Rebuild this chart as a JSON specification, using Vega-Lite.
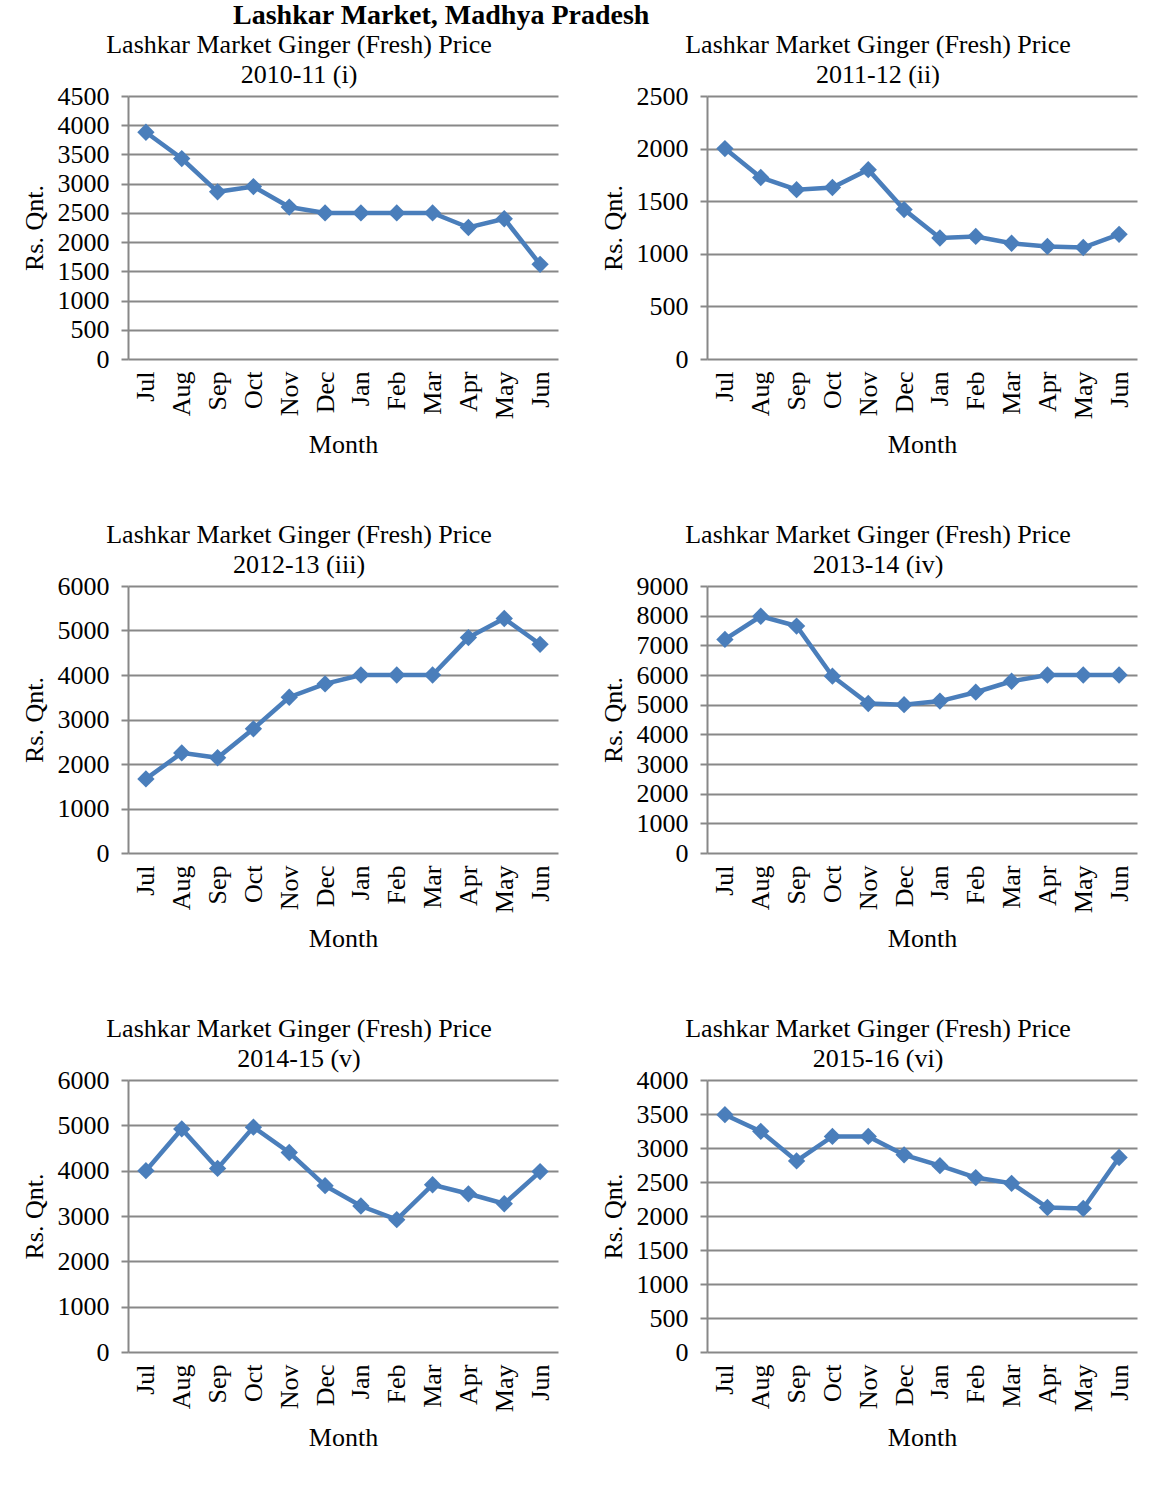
{
  "$schema": "https://vega.github.io/schema/vega-lite/v6.json",
  "padding": {"left": 21, "top": 2, "right": 15, "bottom": 10},
  "title": {"text": "Lashkar Market, Madhya Pradesh", "anchor": "start", "frame": "bounds", "dx": 212, "font": "Liberation Serif", "fontSize": 28, "fontWeight": "bold", "color": "#000", "offset": 2},
  "datasets": {
    "p1": [
      {"month": "Jul", "price": 3880}, {"month": "Aug", "price": 3430}, {"month": "Sep", "price": 2860}, {"month": "Oct", "price": 2950},
      {"month": "Nov", "price": 2600}, {"month": "Dec", "price": 2500}, {"month": "Jan", "price": 2500}, {"month": "Feb", "price": 2500},
      {"month": "Mar", "price": 2500}, {"month": "Apr", "price": 2250}, {"month": "May", "price": 2400}, {"month": "Jun", "price": 1620}
    ],
    "p2": [
      {"month": "Jul", "price": 2000}, {"month": "Aug", "price": 1725}, {"month": "Sep", "price": 1610}, {"month": "Oct", "price": 1630},
      {"month": "Nov", "price": 1800}, {"month": "Dec", "price": 1420}, {"month": "Jan", "price": 1150}, {"month": "Feb", "price": 1165},
      {"month": "Mar", "price": 1100}, {"month": "Apr", "price": 1070}, {"month": "May", "price": 1060}, {"month": "Jun", "price": 1185}
    ],
    "p3": [
      {"month": "Jul", "price": 1665}, {"month": "Aug", "price": 2250}, {"month": "Sep", "price": 2140}, {"month": "Oct", "price": 2790},
      {"month": "Nov", "price": 3500}, {"month": "Dec", "price": 3800}, {"month": "Jan", "price": 4000}, {"month": "Feb", "price": 4000},
      {"month": "Mar", "price": 4000}, {"month": "Apr", "price": 4840}, {"month": "May", "price": 5270}, {"month": "Jun", "price": 4690}
    ],
    "p4": [
      {"month": "Jul", "price": 7200}, {"month": "Aug", "price": 7980}, {"month": "Sep", "price": 7650}, {"month": "Oct", "price": 5960},
      {"month": "Nov", "price": 5040}, {"month": "Dec", "price": 5000}, {"month": "Jan", "price": 5120}, {"month": "Feb", "price": 5420},
      {"month": "Mar", "price": 5790}, {"month": "Apr", "price": 6000}, {"month": "May", "price": 6000}, {"month": "Jun", "price": 6000}
    ],
    "p5": [
      {"month": "Jul", "price": 4000}, {"month": "Aug", "price": 4920}, {"month": "Sep", "price": 4050}, {"month": "Oct", "price": 4960},
      {"month": "Nov", "price": 4400}, {"month": "Dec", "price": 3670}, {"month": "Jan", "price": 3220}, {"month": "Feb", "price": 2920},
      {"month": "Mar", "price": 3690}, {"month": "Apr", "price": 3490}, {"month": "May", "price": 3270}, {"month": "Jun", "price": 3980}
    ],
    "p6": [
      {"month": "Jul", "price": 3490}, {"month": "Aug", "price": 3245}, {"month": "Sep", "price": 2810}, {"month": "Oct", "price": 3170},
      {"month": "Nov", "price": 3170}, {"month": "Dec", "price": 2900}, {"month": "Jan", "price": 2740}, {"month": "Feb", "price": 2565},
      {"month": "Mar", "price": 2480}, {"month": "Apr", "price": 2125}, {"month": "May", "price": 2110}, {"month": "Jun", "price": 2860}
    ]
  },
  "config": {
    "font": "Liberation Serif",
    "view": {"stroke": null},
    "axis": {
      "labelFont": "Liberation Serif", "titleFont": "Liberation Serif",
      "labelFontSize": 26, "titleFontSize": 26, "labelColor": "#000", "titleColor": "#000",
      "titleFontWeight": "normal", "domainColor": "#888", "domainWidth": 2,
      "tickColor": "#888", "tickWidth": 2, "gridColor": "#888", "gridWidth": 2, "gridOpacity": 1
    },
    "axisY": {"grid": true, "tickSize": 7, "labelPadding": 12, "titlePadding": 10, "format": "d"},
    "axisX": {"grid": false, "ticks": false, "domain": false, "labelAngle": -90, "labelPadding": 12, "titlePadding": 13},
    "title": {"font": "Liberation Serif", "fontSize": 26, "fontWeight": "normal", "color": "#000", "anchor": "middle", "frame": "group", "dx": -44, "lineHeight": 30, "offset": -5}
  },
  "columns": 2,
  "spacing": {"row": 64, "column": 42},
  "concat": [
    {
      "title": {"text": ["Lashkar Market Ginger (Fresh) Price", "2010-11 (i)"]},
      "width": 430, "height": 263,
      "data": {"name": "p1"},
      "mark": {"type": "line", "color": "#4A7EBB", "strokeWidth": 4.5, "point": {"shape": "diamond", "filled": true, "size": 300, "color": "#4A7EBB", "opacity": 1}},
      "encoding": {
        "x": {"field": "month", "type": "ordinal", "sort": null, "title": "Month", "scale": {"padding": 0.5}},
        "y": {"field": "price", "type": "quantitative", "title": "Rs. Qnt.", "scale": {"domain": [0, 4500]}, "axis": {"values": [0, 500, 1000, 1500, 2000, 2500, 3000, 3500, 4000, 4500]}}
      }
    },
    {
      "title": {"text": ["Lashkar Market Ginger (Fresh) Price", "2011-12 (ii)"]},
      "width": 430, "height": 263,
      "data": {"name": "p2"},
      "mark": {"type": "line", "color": "#4A7EBB", "strokeWidth": 4.5, "point": {"shape": "diamond", "filled": true, "size": 300, "color": "#4A7EBB", "opacity": 1}},
      "encoding": {
        "x": {"field": "month", "type": "ordinal", "sort": null, "title": "Month", "scale": {"padding": 0.5}},
        "y": {"field": "price", "type": "quantitative", "title": "Rs. Qnt.", "scale": {"domain": [0, 2500]}, "axis": {"values": [0, 500, 1000, 1500, 2000, 2500]}}
      }
    },
    {
      "title": {"text": ["Lashkar Market Ginger (Fresh) Price", "2012-13 (iii)"]},
      "width": 430, "height": 267,
      "data": {"name": "p3"},
      "mark": {"type": "line", "color": "#4A7EBB", "strokeWidth": 4.5, "point": {"shape": "diamond", "filled": true, "size": 300, "color": "#4A7EBB", "opacity": 1}},
      "encoding": {
        "x": {"field": "month", "type": "ordinal", "sort": null, "title": "Month", "scale": {"padding": 0.5}},
        "y": {"field": "price", "type": "quantitative", "title": "Rs. Qnt.", "scale": {"domain": [0, 6000]}, "axis": {"values": [0, 1000, 2000, 3000, 4000, 5000, 6000]}}
      }
    },
    {
      "title": {"text": ["Lashkar Market Ginger (Fresh) Price", "2013-14 (iv)"]},
      "width": 430, "height": 267,
      "data": {"name": "p4"},
      "mark": {"type": "line", "color": "#4A7EBB", "strokeWidth": 4.5, "point": {"shape": "diamond", "filled": true, "size": 300, "color": "#4A7EBB", "opacity": 1}},
      "encoding": {
        "x": {"field": "month", "type": "ordinal", "sort": null, "title": "Month", "scale": {"padding": 0.5}},
        "y": {"field": "price", "type": "quantitative", "title": "Rs. Qnt.", "scale": {"domain": [0, 9000]}, "axis": {"values": [0, 1000, 2000, 3000, 4000, 5000, 6000, 7000, 8000, 9000]}}
      }
    },
    {
      "title": {"text": ["Lashkar Market Ginger (Fresh) Price", "2014-15 (v)"]},
      "width": 430, "height": 272,
      "data": {"name": "p5"},
      "mark": {"type": "line", "color": "#4A7EBB", "strokeWidth": 4.5, "point": {"shape": "diamond", "filled": true, "size": 300, "color": "#4A7EBB", "opacity": 1}},
      "encoding": {
        "x": {"field": "month", "type": "ordinal", "sort": null, "title": "Month", "scale": {"padding": 0.5}},
        "y": {"field": "price", "type": "quantitative", "title": "Rs. Qnt.", "scale": {"domain": [0, 6000]}, "axis": {"values": [0, 1000, 2000, 3000, 4000, 5000, 6000]}}
      }
    },
    {
      "title": {"text": ["Lashkar Market Ginger (Fresh) Price", "2015-16 (vi)"]},
      "width": 430, "height": 272,
      "data": {"name": "p6"},
      "mark": {"type": "line", "color": "#4A7EBB", "strokeWidth": 4.5, "point": {"shape": "diamond", "filled": true, "size": 300, "color": "#4A7EBB", "opacity": 1}},
      "encoding": {
        "x": {"field": "month", "type": "ordinal", "sort": null, "title": "Month", "scale": {"padding": 0.5}},
        "y": {"field": "price", "type": "quantitative", "title": "Rs. Qnt.", "scale": {"domain": [0, 4000]}, "axis": {"values": [0, 500, 1000, 1500, 2000, 2500, 3000, 3500, 4000]}}
      }
    }
  ]
}
